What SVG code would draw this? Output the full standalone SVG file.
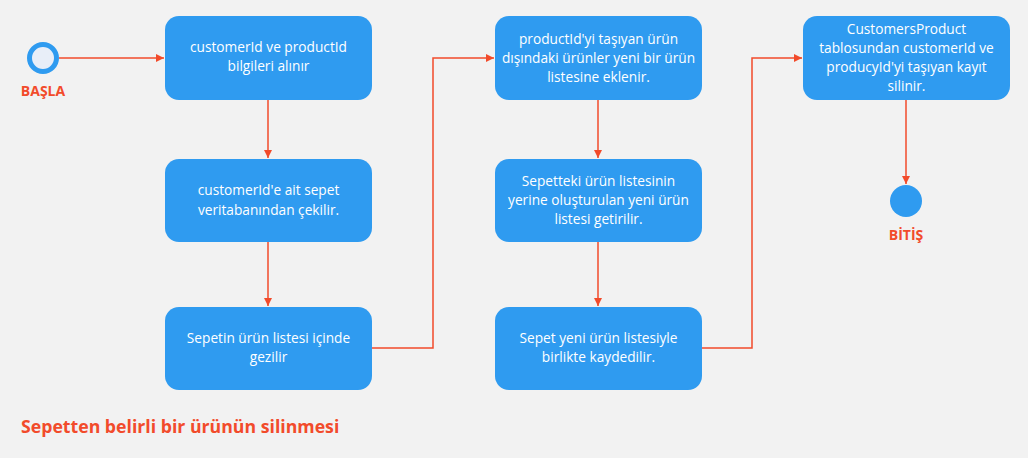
<svg xmlns="http://www.w3.org/2000/svg" width="1028" height="458" viewBox="0 0 1028 458">
<style>
.box{fill:#2F9BF0;}
.t{font-family:"Open Sans","Liberation Sans",sans-serif;font-size:13.7px;fill:#FFFFFF;text-anchor:middle;}
.lbl{font-family:"Open Sans","Liberation Sans",sans-serif;font-size:14px;font-weight:bold;fill:#F24B2B;text-anchor:middle;}
.edge{fill:none;stroke:#F24B2B;stroke-width:1.5;}
</style>
<defs>
<marker id="arr" viewBox="0 0 10 10" refX="10" refY="5" markerWidth="8" markerHeight="8" markerUnits="userSpaceOnUse" orient="auto">
<path d="M0,0 L10,5 L0,10 Z" fill="#F24B2B"/>
</marker>
</defs>
<rect width="1028" height="458" fill="#F2F2F2"/>
<g id="connectors">
<path class="edge" d="M59,58 H164" marker-end="url(#arr)"/>
<path class="edge" d="M268,100 V158" marker-end="url(#arr)"/>
<path class="edge" d="M268,242 V306" marker-end="url(#arr)"/>
<path class="edge" d="M372,348 H433 V58 H494" marker-end="url(#arr)"/>
<path class="edge" d="M598,100 V158" marker-end="url(#arr)"/>
<path class="edge" d="M598,242 V306" marker-end="url(#arr)"/>
<path class="edge" d="M702,348 H752 V58 H802" marker-end="url(#arr)"/>
<path class="edge" d="M906,100 V184" marker-end="url(#arr)"/>
</g>
<g id="start">
<circle cx="43" cy="58" r="13.5" fill="#E8EEF8" stroke="#2F9BF0" stroke-width="5"/>
<text class="lbl" x="43" y="96">BAŞLA</text>
</g>
<g id="n1">
<rect class="box" x="165" y="16" width="207" height="84" rx="14"/>
<text class="t" x="268.5" y="52">customerId ve productId</text>
<text class="t" x="268.5" y="71">bilgileri alınır</text>
</g>
<g id="n2">
<rect class="box" x="165" y="159" width="207" height="83" rx="14"/>
<text class="t" x="268.5" y="195">customerId'e ait sepet</text>
<text class="t" x="268.5" y="215">veritabanından çekilir.</text>
</g>
<g id="n3">
<rect class="box" x="165" y="307" width="207" height="83" rx="14"/>
<text class="t" x="268.5" y="343">Sepetin ürün listesi içinde</text>
<text class="t" x="268.5" y="362">gezilir</text>
</g>
<g id="n4">
<rect class="box" x="495" y="16" width="207" height="84" rx="14"/>
<text class="t" x="598.5" y="44">productId'yi taşıyan ürün</text>
<text class="t" x="598.5" y="63">dışındaki ürünler yeni bir ürün</text>
<text class="t" x="598.5" y="82">listesine eklenir.</text>
</g>
<g id="n5">
<rect class="box" x="495" y="159" width="207" height="83" rx="14"/>
<text class="t" x="598.5" y="186">Sepetteki ürün listesinin</text>
<text class="t" x="598.5" y="205">yerine oluşturulan yeni ürün</text>
<text class="t" x="598.5" y="224">listesi getirilir.</text>
</g>
<g id="n6">
<rect class="box" x="495" y="307" width="207" height="83" rx="14"/>
<text class="t" x="598.5" y="343">Sepet yeni ürün listesiyle</text>
<text class="t" x="598.5" y="362">birlikte kaydedilir.</text>
</g>
<g id="n7">
<rect class="box" x="803" y="16" width="207" height="84" rx="14"/>
<text class="t" x="906.5" y="34">CustomersProduct</text>
<text class="t" x="906.5" y="53">tablosundan customerId ve</text>
<text class="t" x="906.5" y="72">producyId'yi taşıyan kayıt</text>
<text class="t" x="906.5" y="91">silinir.</text>
</g>
<g id="end">
<circle cx="906" cy="201" r="16" fill="#2F9BF0"/>
<text class="lbl" x="906" y="240">BİTİŞ</text>
</g>
<text x="21" y="433" font-family="'Open Sans','Liberation Sans',sans-serif" font-size="17.7" font-weight="bold" fill="#F24B2B">Sepetten belirli bir ürünün silinmesi</text>
</svg>
